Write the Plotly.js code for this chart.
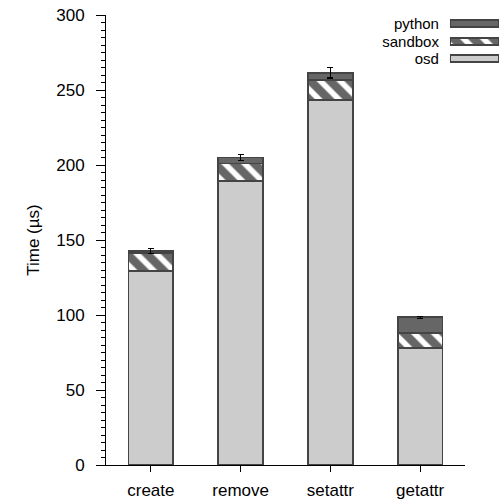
<!DOCTYPE html>
<html>
<head>
<meta charset="utf-8">
<script src="https://cdn.plot.ly/plotly-3.0.1.min.js"></script>
<style>html,body{margin:0;padding:0;background:#fff}#chart{width:502px;height:500px}</style>
</head>
<body>
<div id="chart"></div>
<script>
const categories = ['create', 'remove', 'setattr', 'getattr'];
const osd = [129.5, 189.5, 243.5, 77.8];
const sandbox = [12.0, 11.5, 13.0, 10.4];
const python = [1.2, 4.0, 5.0, 10.3];
const pythonErr = [1.5, 2.0, 3.5, 0.7];
const legendNames = ['osd', 'sandbox', 'python'];
const yTitle = 'Time (µs)';

const FONT = 'Liberation Sans, Arial, Helvetica, sans-serif';
const OUTLINE = {color: '#444444', width: 1.8};
const styles = {
  osd: {color: '#cccccc', line: OUTLINE},
  sandbox: {color: '#666666', line: OUTLINE,
            pattern: {shape: '\\', bgcolor: '#ffffff', fgcolor: '#666666', size: 14, solidity: 0.6, fillmode: 'replace'}},
  python: {color: '#666666', line: OUTLINE}
};

const traces = [
  {type: 'bar', name: 'osd', x: categories, y: osd, marker: styles.osd, showlegend: false, hoverinfo: 'y'},
  {type: 'bar', name: 'sandbox', x: categories, y: sandbox, marker: styles.sandbox, showlegend: false, hoverinfo: 'y'},
  {type: 'bar', name: 'python', x: categories, y: python, marker: styles.python, showlegend: false, hoverinfo: 'y',
   error_y: {type: 'data', array: pythonErr, visible: true, color: '#000000', thickness: 1.2, width: 3}}
];

// legend swatches drawn as small horizontal bars on a dedicated axis pair
legendNames.forEach(function (n) {
  traces.push({type: 'bar', orientation: 'h', y: [n], x: [1], width: 0.4,
    xaxis: 'x2', yaxis: 'y2', marker: styles[n], showlegend: false, hoverinfo: 'skip'});
});

const layout = {
  width: 502, height: 500,
  margin: {l: 106, r: 2, t: 15, b: 35},
  paper_bgcolor: '#ffffff', plot_bgcolor: '#ffffff',
  font: {family: FONT, size: 17, color: '#000000'},
  barmode: 'stack', bargap: 0.5,
  showlegend: false,
  xaxis: {
    domain: [0, 0.9112], type: 'category', range: [-0.5, 3.5],
    showline: true, linecolor: '#000000', linewidth: 1,
    ticks: 'outside', ticklen: 6, tickcolor: '#000000', ticklabelstandoff: 4,
    showgrid: false, zeroline: false, fixedrange: true
  },
  yaxis: {
    range: [0, 300], dtick: 50, tick0: 0,
    showline: true, linecolor: '#000000', linewidth: 1,
    ticks: 'outside', ticklen: 9, tickcolor: '#000000', ticklabelstandoff: 8,
    minor: {dtick: 5, ticks: 'outside', ticklen: 4, tickcolor: '#000000', showgrid: false},
    showgrid: false, zeroline: false, fixedrange: true,
    title: {text: yTitle, font: {size: 17}, standoff: 12}
  },
  xaxis2: {domain: [0.873, 0.9975], range: [0, 1], anchor: 'y2', visible: false, fixedrange: true},
  yaxis2: {
    domain: [0.883, 1], anchor: 'x2', type: 'category', range: [-0.5, 2.5],
    categoryorder: 'array', categoryarray: legendNames,
    tickmode: 'array', tickvals: legendNames, ticktext: legendNames,
    showline: false, showgrid: false, zeroline: false, ticks: '', ticklabelstandoff: 10,
    tickfont: {size: 15}, fixedrange: true
  }
};

Plotly.newPlot('chart', traces, layout, {displayModeBar: false, staticPlot: true});
</script>
</body>
</html>
